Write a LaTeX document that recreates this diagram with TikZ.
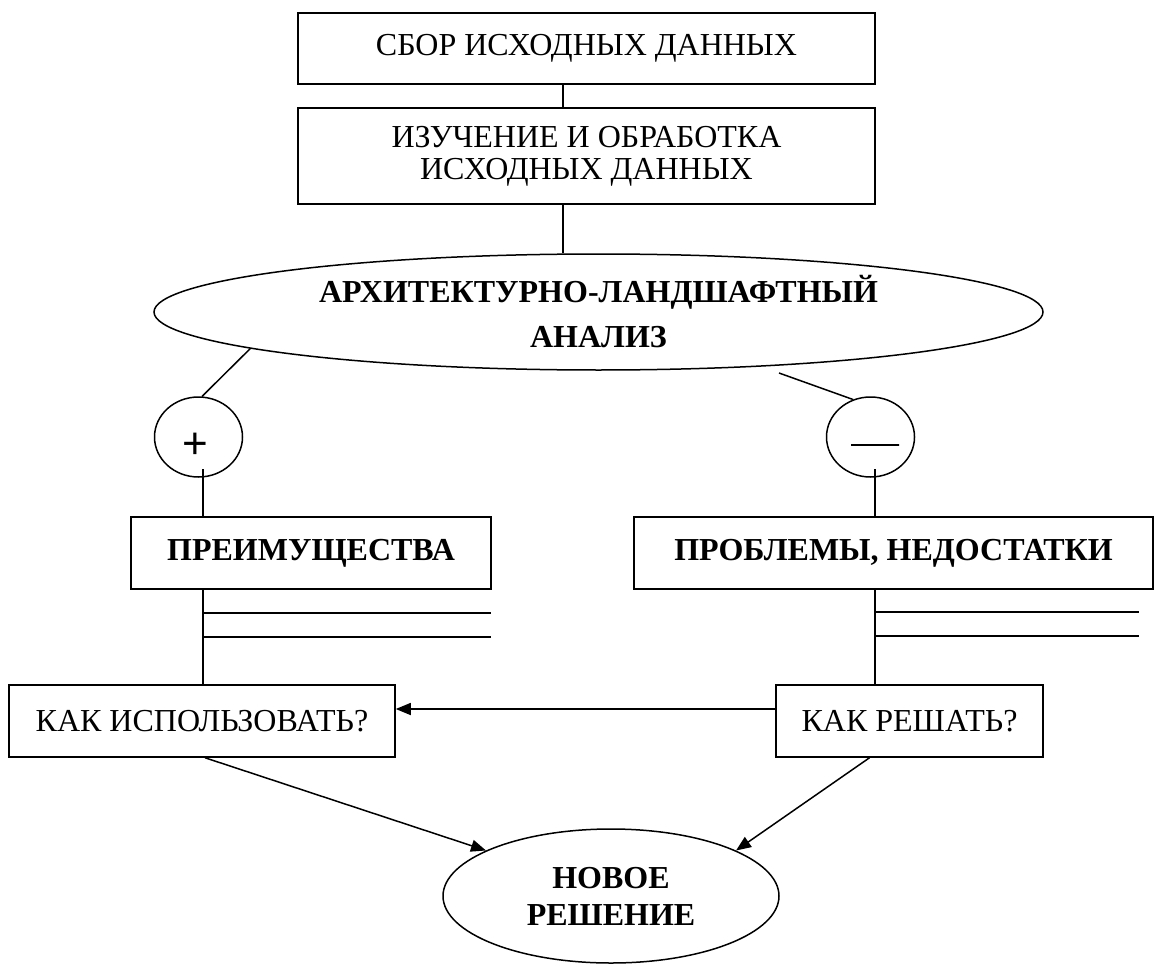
\documentclass[tikz,border=0pt]{standalone}
\usepackage{fontspec}
\setmainfont{Liberation Serif}
\newfontfamily\sansf{Liberation Sans}
\usetikzlibrary{shapes.geometric,arrows.meta}
\begin{document}
\begin{tikzpicture}[x=1pt,y=-1pt,line width=1.5pt,
  stepbox/.style={draw,rectangle,inner sep=0pt,align=center,font=\fontsize{32}{32}\selectfont},
  oval/.style={draw,ellipse,inner sep=0pt,align=center},
  arr/.style={-{Triangle[length=15pt,width=12pt]}}]
\useasboundingbox (0,0) rectangle (1155,968);
% top boxes
\node[stepbox,minimum width=577pt,minimum height=71pt] (b1) at (586.5,48.5) {СБОР ИСХОДНЫХ ДАННЫХ};
\node[stepbox,minimum width=577pt,minimum height=96pt] (b2) at (586.5,156) {ИЗУЧЕНИЕ И ОБРАБОТКА\\ИСХОДНЫХ ДАННЫХ};
\coordinate (cx) at (563,0);
% analysis ellipse
\node[oval,minimum width=889pt,minimum height=116pt,font=\fontsize{32}{45}\selectfont\bfseries] (an) at (598.5,312) {АРХИТЕКТУРНО-ЛАНДШАФТНЫЙ\\АНАЛИЗ};
% circles
\node[oval,minimum width=88pt,minimum height=80pt] (pc) at (198.5,437) {};
\node[font=\sansf\fontsize{44}{44}\selectfont,inner sep=0pt] (plus) at (195,446) {+};
\node[oval,minimum width=88pt,minimum height=80pt] (mc) at (870.5,437) {};
\node[draw,minimum width=48pt,minimum height=0pt,inner sep=0pt,line width=1.6pt] (minus) at (875,445) {};
\coordinate (ms) at (779,373);
% boxes
\node[stepbox,minimum width=360pt,minimum height=72pt,font=\fontsize{32}{32}\selectfont\bfseries] (pb) at (311,553) {ПРЕИМУЩЕСТВА};
\node[stepbox,minimum width=519pt,minimum height=72pt,font=\fontsize{32}{32}\selectfont\bfseries] (nb) at (893.5,553) {ПРОБЛЕМЫ, НЕДОСТАТКИ};
\node[stepbox,minimum width=386pt,minimum height=72pt] (ki) at (202,721) {КАК ИСПОЛЬЗОВАТЬ?};
\node[stepbox,minimum width=267pt,minimum height=72pt] (kr) at (909.5,721) {КАК РЕШАТЬ?};
% new solution
\node[oval,minimum width=336pt,minimum height=134pt,font=\fontsize{32}{37}\selectfont\bfseries] (nr) at (611,896) {НОВОЕ\\РЕШЕНИЕ};
% coordinates for lines
\coordinate (lx) at (203,0);
\coordinate (rx) at (875,0);
\coordinate (l1) at (203,613);
\coordinate (l1e) at (491,613);
\coordinate (l2) at (203,637);
\coordinate (l2e) at (491,637);
\coordinate (r1) at (875,612);
\coordinate (r1e) at (1139,612);
\coordinate (r2) at (875,636);
\coordinate (r2e) at (1139,636);
% connectors
\draw (b1.south -| cx) -- (b2.north -| cx);
\draw (b2.south -| cx) -- (an.north -| cx);
\draw (an.186) -- (pc.85);
\draw (ms) -- (mc.115);
\draw ([yshift=-32pt]pc.center -| lx) -- (pb.north -| lx);
\draw ([yshift=-32pt]mc.center -| rx) -- (nb.north -| rx);
\draw (pb.south -| lx) -- (ki.north -| lx);
\draw (nb.south -| rx) -- (kr.north -| rx);
\draw (l1) -- (l1e);
\draw (l2) -- (l2e);
\draw (r1) -- (r1e);
\draw (r2) -- (r2e);
\draw[arr] ([yshift=12pt]kr.west) -- ([yshift=12pt]ki.east);
\draw[arr] ([xshift=3pt]ki.south) -- (nr.160);
\draw[arr] ([xshift=-40pt]kr.south) -- (nr.20);
\end{tikzpicture}
\end{document}
